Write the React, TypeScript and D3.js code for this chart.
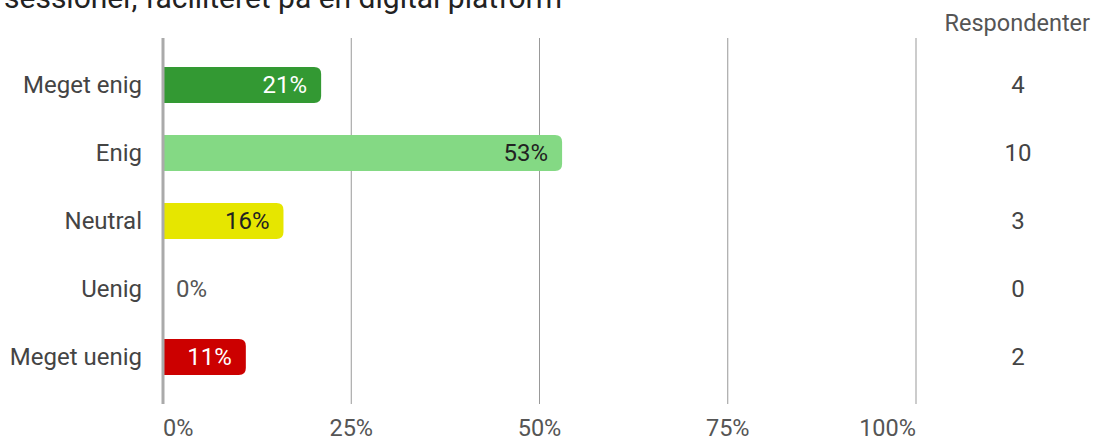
import React from "react";
import * as d3 from "d3";

const categories = ["Meget enig", "Enig", "Neutral", "Uenig", "Meget uenig"];
const percents = [21, 53, 16, 0, 11];
const counts = [4, 10, 3, 0, 2];
const colors = ["#339933", "#84d984", "#e6e600", "#cccccc", "#cc0000"];
const labelColors = ["#ffffff", "#222222", "#222222", "#555555", "#ffffff"];
const ticks = [0, 25, 50, 75, 100];
const title = "sessioner, faciliteret på en digital platform";

export default function App() {
  const W = 1095, H = 438;
  const x = d3.scaleLinear().domain([0, 100]).range([163, 916]);
  const y = d3.scaleBand<string>().domain(categories).range([51, 391]).paddingInner(0.47).paddingOuter(0.235);
  const font = "Roboto, 'Noto Sans', sans-serif";
  const bh = 36;
  const r = 7;
  const barPath = (w: number, yc: number) => {
    if (w <= 0) return "";
    const rr = Math.min(r, w);
    const x0 = x(0), x1 = x(0) + w, y0 = yc - bh / 2, y1 = yc + bh / 2;
    return `M${x0},${y0}H${x1 - rr}Q${x1},${y0} ${x1},${y0 + rr}V${y1 - rr}Q${x1},${y1} ${x1 - rr},${y1}H${x0}Z`;
  };
  return (
    <svg width={W} height={H} style={{ position: "absolute", left: 0, top: 0, background: "#fff" }}>
      <text x={4} y={8} fontFamily={font} fontSize={30} fill="#222">{title}</text>
      <text x={1090} y={31} textAnchor="end" fontFamily={font} fontSize={23.5} fill="#555">Respondenter</text>
      {ticks.slice(1).map((t) => (
        <line key={t} x1={x(t)} x2={x(t)} y1={38} y2={404} stroke="#999" strokeWidth={1} />
      ))}
      {ticks.map((t, i) => (
        <text
          key={"l" + t}
          x={x(t)}
          y={436}
          textAnchor={i === 0 ? "start" : i === ticks.length - 1 ? "end" : "middle"}
          fontFamily={font}
          fontSize={23.5}
          fill="#555"
        >{t + "%"}</text>
      ))}
      {categories.map((c, i) => {
        const p = percents[i];
        const yc = (y(c) as number) + y.bandwidth() / 2;
        const w = x(p) - x(0);
        return (
          <g key={c}>
            <text x={142} y={yc} dy="0.35em" textAnchor="end" fontFamily={font} fontSize={24} fill="#444">{c}</text>
            <path d={barPath(w, yc)} fill={colors[i]} />
            {w > 0 ? (
              <text x={x(p) - 14} y={yc} dy="0.35em" textAnchor="end" fontFamily={font} fontSize={24} fill={labelColors[i]}>{p + "%"}</text>
            ) : (
              <text x={176} y={yc} dy="0.35em" textAnchor="start" fontFamily={font} fontSize={24} fill={labelColors[i]}>{p + "%"}</text>
            )}
            <text x={1018} y={yc} dy="0.35em" textAnchor="middle" fontFamily={font} fontSize={24} fill="#444">{counts[i]}</text>
          </g>
        );
      })}
      <line x1={x(0)} x2={x(0)} y1={38} y2={404} stroke="#aaa" strokeWidth={3} />
    </svg>
  );
}
